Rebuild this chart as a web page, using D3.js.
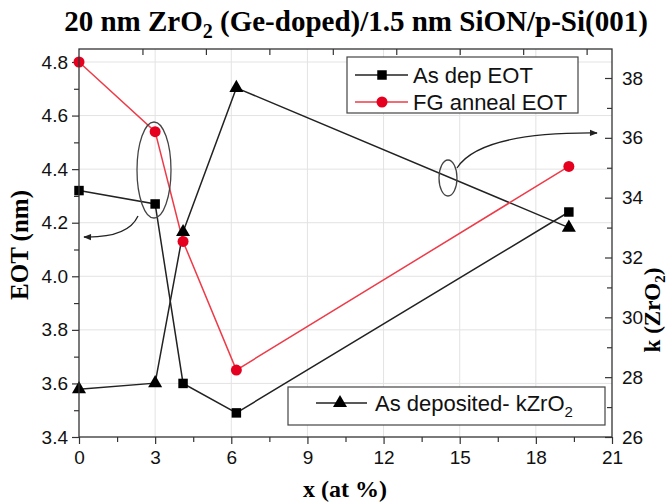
<!DOCTYPE html>
<html>
<head>
<meta charset="utf-8">
<script src="https://cdn.jsdelivr.net/npm/d3@7"></script>
<style>
  html, body { margin: 0; padding: 0; background: #fff; }
  svg { display: block; }
</style>
</head>
<body>
<svg id="chart" width="670" height="504"></svg>
<script>
// ---- data ----
const xValues = [0, 3, 4.1, 6.2, 19.3];
const asDepEOT = [4.32, 4.27, 3.60, 3.49, 4.24];
const fgAnnealEOT = [4.80, 4.54, 4.13, 3.65, 4.41];
const asDepK = [27.6, 27.8, 32.85, 37.67, 33.0];
const xTicks = [0, 3, 6, 9, 12, 15, 18, 21];
const eotTicks = [3.4, 3.6, 3.8, 4.0, 4.2, 4.4, 4.6, 4.8];
const kTicks = [26, 28, 30, 32, 34, 36, 38];

const svg = d3.select("#chart");
const L = 79, R = 612, T = 49, B = 437;

const x = d3.scaleLinear().domain([0, 21]).range([L, R]);
const y = d3.scaleLinear().domain([3.4, 4.8]).range([B, 62]);
const yk = d3.scaleLinear().domain([26, 38]).range([B, 78]);

const sans = "'Liberation Sans', Arial, sans-serif";
const serif = "'Liberation Serif', 'Times New Roman', serif";

// gridlines
const grid = svg.append("g").attr("stroke", "#e3e3e3").attr("stroke-width", 1);
xTicks.slice(1, -1).forEach(v => grid.append("line")
  .attr("x1", x(v)).attr("x2", x(v)).attr("y1", T).attr("y2", B));
eotTicks.slice(1).forEach(v => grid.append("line")
  .attr("x1", L).attr("x2", R).attr("y1", y(v)).attr("y2", y(v)));

// axes
const tickFmt = d3.format(".1f");
const axL = d3.axisLeft(y).tickValues(eotTicks).tickFormat(tickFmt).tickSize(7).tickPadding(4);
const axLm = d3.axisLeft(y).tickValues(d3.range(3.5, 4.8, 0.2)).tickFormat("").tickSize(5);
const axB = d3.axisBottom(x).tickValues(xTicks).tickSize(7).tickPadding(7);
const axBm = d3.axisBottom(x).tickValues(d3.range(1.5, 21, 3)).tickFormat("").tickSize(5);
const axR = d3.axisRight(yk).tickValues(kTicks).tickSize(-7).tickPadding(10);
const axRm = d3.axisRight(yk).tickValues(d3.range(27, 38, 2)).tickFormat("").tickSize(-5);
const axT = d3.axisTop(x).tickValues(d3.range(2.5, 21, 2.5)).tickFormat("").tickSize(-6);

function style(g) {
  g.select(".domain").remove();
  g.selectAll("line").attr("stroke", "#333").attr("stroke-width", 1.2);
  g.selectAll("text").attr("font-family", sans).attr("font-size", 19).attr("fill", "#111");
}
svg.append("g").attr("transform", `translate(${L},0)`).call(axL).call(style);
svg.append("g").attr("transform", `translate(${L},0)`).call(axLm).call(style);
svg.append("g").attr("transform", `translate(0,${B})`).call(axB).call(style);
svg.append("g").attr("transform", `translate(0,${B})`).call(axBm).call(style);
svg.append("g").attr("transform", `translate(${R},0)`).call(axR).call(style);
svg.append("g").attr("transform", `translate(${R},0)`).call(axRm).call(style);
svg.append("g").attr("transform", `translate(0,${T})`).call(axT).call(style);

// lines
const pts = (arr) => xValues.map((v, i) => [v, arr[i]]);
const lineE = d3.line().x(d => x(d[0])).y(d => y(d[1]));
const lineK = d3.line().x(d => x(d[0])).y(d => yk(d[1]));

svg.append("path").attr("d", lineE(pts(asDepEOT))).attr("fill", "none").attr("stroke", "#222").attr("stroke-width", 1.5);
svg.append("path").attr("d", lineK(pts(asDepK))).attr("fill", "none").attr("stroke", "#222").attr("stroke-width", 1.5);
svg.append("path").attr("d", lineE(pts(fgAnnealEOT))).attr("fill", "none").attr("stroke", "#ee3b48").attr("stroke-width", 1.5);

const sq = d3.symbol().type(d3.symbolSquare).size(90);
const ci = d3.symbol().type(d3.symbolCircle).size(95);
const tr = d3.symbol().type(d3.symbolTriangle).size(85);

svg.append("g").selectAll("path").data(pts(asDepEOT)).join("path")
  .attr("d", sq).attr("transform", d => `translate(${x(d[0])},${y(d[1])})`).attr("fill", "#000");
svg.append("g").selectAll("path").data(pts(fgAnnealEOT)).join("path")
  .attr("d", ci).attr("transform", d => `translate(${x(d[0])},${y(d[1])})`).attr("fill", "#e60020");
svg.append("g").selectAll("path").data(pts(asDepK)).join("path")
  .attr("d", tr).attr("transform", d => `translate(${x(d[0])},${yk(d[1])})`).attr("fill", "#000");

// frame
svg.append("rect").attr("x", L).attr("y", T).attr("width", R - L).attr("height", B - T)
  .attr("fill", "none").attr("stroke", "#333").attr("stroke-width", 1.3);

// annotations
const defs = svg.append("defs");
defs.append("marker").attr("id", "ah").attr("viewBox", "0 0 10 10").attr("refX", 9).attr("refY", 5)
  .attr("markerWidth", 8).attr("markerHeight", 6).attr("orient", "auto")
  .append("path").attr("d", "M0,1 L10,5 L0,9 Z").attr("fill", "#222");

svg.append("ellipse").attr("cx", 154).attr("cy", 170).attr("rx", 17).attr("ry", 48)
  .attr("fill", "none").attr("stroke", "#444").attr("stroke-width", 1.3);
svg.append("path").attr("d", "M138,216 Q128,238 84,237").attr("fill", "none")
  .attr("stroke", "#222").attr("stroke-width", 1.3).attr("marker-end", "url(#ah)");

svg.append("ellipse").attr("cx", 448).attr("cy", 178).attr("rx", 9).attr("ry", 18)
  .attr("fill", "none").attr("stroke", "#444").attr("stroke-width", 1.3);
svg.append("path").attr("d", "M457,168 Q480,132 597,133").attr("fill", "none")
  .attr("stroke", "#222").attr("stroke-width", 1.3).attr("marker-end", "url(#ah)");

// legend 1
const lg1 = svg.append("g");
lg1.append("rect").attr("x", 347).attr("y", 57).attr("width", 231).attr("height", 56)
  .attr("fill", "#fff").attr("stroke", "#444").attr("stroke-width", 1.2);
[[75, "#222", sq, "#000", "As dep EOT"], [102, "#ee3b48", ci, "#e60020", "FG anneal EOT"]].forEach(r => {
  lg1.append("line").attr("x1", 355).attr("x2", 408).attr("y1", r[0]).attr("y2", r[0]).attr("stroke", r[1]).attr("stroke-width", 1.5);
  lg1.append("path").attr("d", r[2]).attr("transform", `translate(382,${r[0]})`).attr("fill", r[3]);
  lg1.append("text").attr("x", 413).attr("y", r[0] + 8).attr("font-family", sans).attr("font-size", 22).attr("fill", "#111").text(r[4]);
});

// legend 2
const lg2 = svg.append("g");
lg2.append("rect").attr("x", 288).attr("y", 387).attr("width", 317).attr("height", 38)
  .attr("fill", "#fff").attr("stroke", "#444").attr("stroke-width", 1.2);
lg2.append("line").attr("x1", 316).attr("x2", 367).attr("y1", 403).attr("y2", 403).attr("stroke", "#222").attr("stroke-width", 1.5);
lg2.append("path").attr("d", tr).attr("transform", "translate(340,403)").attr("fill", "#000");
const t2 = lg2.append("text").attr("x", 375).attr("y", 411).attr("font-family", sans).attr("font-size", 22).attr("fill", "#111");
t2.append("tspan").text("As deposited- kZrO");
t2.append("tspan").attr("font-size", 15).attr("dy", 6).text("2");

// titles
const title = svg.append("text").attr("x", 356).attr("y", 31).attr("text-anchor", "middle")
  .attr("font-family", serif).attr("font-weight", "bold").attr("font-size", 29).attr("fill", "#000");
title.append("tspan").text("20 nm ZrO");
title.append("tspan").attr("font-size", 20).attr("dy", 7).text("2");
title.append("tspan").attr("dy", -7).text(" (Ge-doped)/1.5 nm SiON/p-Si(001)");

svg.append("text").attr("x", 345).attr("y", 497).attr("text-anchor", "middle")
  .attr("font-family", serif).attr("font-weight", "bold").attr("font-size", 24).attr("fill", "#000")
  .text("x (at %)");

svg.append("text").attr("transform", "translate(28,245) rotate(-90)").attr("text-anchor", "middle")
  .attr("font-family", serif).attr("font-weight", "bold").attr("font-size", 25).attr("fill", "#000")
  .text("EOT (nm)");

const kt = svg.append("text").attr("transform", "translate(660,310) rotate(-90)").attr("text-anchor", "middle")
  .attr("font-family", serif).attr("font-weight", "bold").attr("font-size", 23).attr("fill", "#000");
kt.append("tspan").text("k (ZrO");
kt.append("tspan").attr("font-size", 15).attr("dy", 5).text("2");
kt.append("tspan").attr("dy", -5).text(")");
</script>
</body>
</html>
